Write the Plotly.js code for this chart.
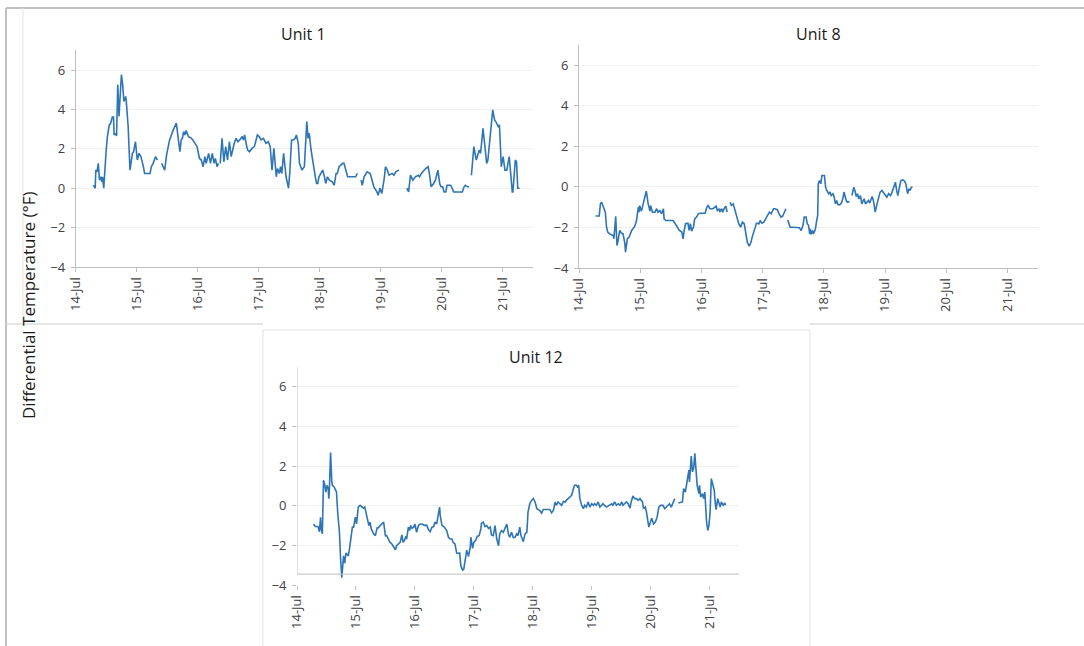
<!DOCTYPE html>
<html>
<head>
<meta charset="utf-8">
<script src="https://cdn.plot.ly/plotly-3.0.1.min.js"></script>
<style>
  html, body { margin: 0; padding: 0; background: #ffffff; }
  #chart { width: 1084px; height: 646px; }
</style>
</head>
<body>
<div id="chart"></div>
<script>
// Day-of-July timestamps (fractional days) and differential temperatures (°F).
// null values mark logging gaps.
const u1Day = [14.29,14.32,14.33,14.35,14.37,14.39,14.41,14.43,14.44,14.46,14.50,14.52,14.55,14.57,14.60,14.62,14.63,14.65,14.67,14.69,14.71,14.73,14.75,14.77,14.79,14.82,14.83,14.86,14.89,14.93,14.95,14.98,15.01,15.04,15.07,15.11,15.13,15.22,15.24,15.27,15.31,15.34,15.37,
  15.41,15.46,15.49,15.51,15.54,15.60,15.65,15.71,15.73,15.75,15.77,15.79,15.81,15.85,15.90,15.92,15.97,15.99,16.03,16.06,16.09,16.12,16.14,16.18,16.21,16.24,16.27,16.29,16.32,16.34,16.355,
  16.37,16.40,16.43,16.44,16.46,16.49,16.52,16.55,16.58,16.60,16.63,16.66,16.69,16.73,16.75,16.77,16.80,16.82,16.85,16.89,16.93,16.98,17.01,17.04,17.08,17.12,17.16,17.19,17.22,17.25,17.29,17.31,17.34,17.36,17.38,17.41,17.45,17.49,17.51,17.54,17.57,17.60,17.62,17.65,17.67,17.71,17.75,17.79,17.81,17.83,17.86,17.90,17.93,17.95,17.97,17.99,18.02,18.05,18.08,18.10,18.13,18.16,18.21,18.24,18.27,18.29,18.32,18.38,18.40,18.43,18.46,18.59,18.62,18.65,
  18.68,18.70,18.73,18.78,18.83,18.87,18.89,18.94,18.96,18.99,19.02,19.06,19.08,19.11,19.14,19.19,19.22,19.25,19.30,19.36,
  19.43,19.46,19.49,19.53,19.57,19.62,19.64,19.67,19.74,19.78,19.80,19.83,19.87,19.90,19.94,19.97,19.99,20.02,20.04,20.07,20.09,20.15,20.20,20.34,20.37,20.39,20.43,20.45,20.47,
  20.49,20.53,20.57,20.60,20.62,20.64,20.68,20.70,20.74,20.76,20.80,20.84,20.87,20.89,20.93,20.95,20.98,21.01,21.04,21.07,21.11,21.13,21.16,21.17,21.21,21.23,21.25,21.28];
const u1Val = [0.15,0.0,0.92,0.83,1.26,0.41,0.58,0.32,0.58,0.0,1.94,2.62,3.21,3.27,3.61,3.61,2.70,2.79,2.65,5.26,3.64,5.17,5.77,5.26,4.40,4.66,4.40,3.13,0.92,1.77,1.85,2.36,1.43,1.77,1.60,1.09,0.75,0.75,1.09,1.26,1.60,1.43,null,
  1.26,0.92,1.68,1.94,2.45,2.96,3.30,1.85,2.45,2.53,2.87,2.70,2.93,2.62,2.53,2.45,2.19,2.11,1.51,1.43,1.09,1.60,1.26,1.77,1.26,1.77,1.26,1.51,1.09,1.26,null,
  1.26,2.53,1.34,1.68,2.11,1.43,2.36,1.60,2.11,2.28,2.53,2.36,2.45,2.62,2.45,2.70,2.19,1.94,1.85,2.02,2.11,2.70,2.62,2.45,2.53,2.28,2.36,2.11,0.92,2.02,0.58,1.00,0.75,1.09,0.75,1.77,0.58,0.0,0.75,2.45,2.45,2.53,2.70,2.28,1.26,0.92,1.09,3.38,2.53,2.79,1.94,1.00,0.58,0.24,0.24,0.58,0.75,0.92,0.58,0.24,0.58,0.41,0.32,0.15,0.75,0.75,1.09,1.26,1.26,0.83,0.58,0.58,0.75,null,
  0.41,0.15,0.58,0.83,0.75,0.32,0.07,-0.19,-0.36,0.0,-0.27,0.49,1.09,0.92,0.66,0.75,0.66,0.83,0.92,null,
  0.0,-0.19,0.66,0.41,0.58,0.66,0.58,0.75,1.00,1.09,0.75,0.07,0.24,0.41,0.92,0.24,0.07,0.07,-0.19,-0.19,0.15,0.15,-0.19,-0.19,0.07,0.15,0.07,0.07,null,
  0.66,2.11,1.43,1.77,1.94,1.77,3.04,2.45,1.26,1.43,2.62,3.98,3.47,3.38,3.13,3.21,1.09,1.60,0.92,0.92,1.60,0.75,-0.19,-0.19,1.43,1.34,0.0,0.0];

const u8Day = [14.27,14.33,14.35,14.37,14.39,14.43,14.45,14.47,14.50,14.53,14.56,14.57,14.58,14.60,14.62,14.64,14.66,14.67,14.69,14.72,14.75,14.76,14.79,14.82,14.86,14.88,14.91,14.94,14.97,14.98,14.99,15.02,15.05,15.08,15.10,15.13,15.16,15.17,15.20,15.24,15.27,15.29,15.32,15.35,15.38,15.39,15.42,15.54,15.59,15.64,15.68,15.70,15.72,15.74,15.78,15.80,15.82,15.84,15.87,15.89,15.92,15.95,15.98,16.06,16.09,16.11,16.14,16.19,16.24,16.26,16.29,16.30,16.33,16.35,16.37,16.40,16.42,16.45,
  16.47,16.49,16.52,16.55,16.58,16.61,16.64,16.67,16.70,16.72,16.75,16.78,16.81,16.83,16.88,16.90,16.94,16.96,16.99,17.02,17.05,17.08,17.11,17.14,17.18,17.20,17.24,17.27,17.30,17.33,17.37,17.38,17.395,
  17.41,17.45,17.50,17.56,17.60,17.63,17.66,17.68,17.71,17.73,17.75,17.77,17.78,17.79,17.82,17.83,17.86,17.88,17.90,17.91,17.93,17.95,17.97,18.01,18.03,18.05,18.08,18.10,18.12,18.15,18.17,18.19,18.21,18.23,18.26,18.29,18.31,18.33,18.35,18.37,18.39,18.42,18.44,
  18.46,18.49,18.51,18.53,18.55,18.57,18.60,18.62,18.64,18.66,18.68,18.71,18.73,18.75,18.77,18.79,18.81,18.84,18.87,18.90,18.92,18.95,18.98,19.01,19.03,19.06,19.09,19.11,19.14,19.17,19.19,19.21,19.23,19.26,19.29,19.32,19.34,19.37,19.39,19.41,19.43,19.45];
const u8Val = [-1.44,-1.44,-0.84,-0.76,-0.92,-1.25,-1.99,-2.23,-2.32,-2.35,-2.40,-2.56,-2.15,-1.46,-2.89,-2.64,-2.23,-2.15,-2.28,-2.32,-2.81,-3.22,-2.56,-2.48,-2.15,-2.07,-1.95,-1.66,-1.00,-1.25,-0.92,-1.20,-0.84,-0.51,-0.21,-0.84,-1.20,-0.92,-1.25,-1.25,-1.08,-1.25,-1.17,-1.33,-1.08,-1.58,-1.66,-1.66,-1.90,-2.15,-2.23,-2.56,-2.15,-1.82,-1.79,-2.15,-1.82,-2.18,-1.99,-1.58,-1.49,-1.33,-1.30,-1.30,-1.00,-0.92,-1.08,-1.08,-0.95,-1.17,-1.08,-1.25,-1.08,-1.25,-1.08,-0.95,-1.25,null,
  -0.76,-0.92,-0.84,-1.17,-1.49,-1.82,-1.99,-1.74,-1.82,-2.23,-2.73,-2.92,-2.73,-2.48,-1.90,-1.79,-1.82,-1.66,-1.79,-1.74,-1.58,-1.41,-1.25,-1.33,-1.08,-1.08,-1.13,-1.33,-1.49,-1.44,-1.17,-1.08,null,
  -1.63,-1.99,-1.99,-1.99,-2.02,-2.15,-1.90,-1.49,-1.49,-1.82,-1.90,-2.32,-2.07,-2.35,-2.15,-2.32,-2.12,-1.74,-1.41,0.15,0.31,0.15,0.56,0.56,-0.02,-0.18,-0.34,-0.26,-0.43,-0.34,-0.51,-0.84,-0.67,-0.87,-0.89,-0.79,-0.59,-0.26,-0.51,-0.71,-0.76,-0.72,null,
  -0.43,-0.02,-0.21,-0.48,-0.34,-0.59,-0.43,-0.84,-0.71,-0.59,-0.84,-0.72,-0.67,-0.80,-0.59,-0.48,-0.67,-1.25,-0.84,-0.51,-0.26,-0.18,-0.31,-0.43,-0.51,-0.34,-0.43,-0.31,-0.02,0.23,-0.18,-0.43,-0.10,0.31,0.34,0.28,0.15,-0.34,-0.10,-0.18,-0.02,-0.02];

const u12Day = [14.28,14.31,14.34,14.36,14.38,14.40,14.41,14.43,14.45,14.47,14.49,14.51,14.53,14.54,14.55,14.57,14.59,14.60,14.63,14.67,14.69,14.72,14.74,14.76,14.79,14.81,14.83,14.85,14.87,14.89,14.91,14.94,14.96,14.99,15.01,15.03,15.04,15.07,15.10,15.13,15.15,15.17,15.20,15.22,15.24,15.26,15.30,15.33,15.36,15.38,15.41,15.44,15.47,15.50,15.52,15.55,15.58,15.61,15.64,15.67,15.69,15.72,15.75,15.78,15.80,15.82,15.85,15.86,15.89,15.91,15.93,15.95,15.98,
  16.00,16.03,16.06,16.09,16.12,16.15,16.17,16.20,16.23,16.26,16.29,16.32,16.34,16.37,16.40,16.42,16.43,16.46,16.50,16.54,16.57,16.60,16.63,16.65,16.68,16.71,16.74,16.76,16.78,16.81,16.83,16.86,16.88,16.91,16.94,16.95,16.98,
  17.00,17.03,17.06,17.09,17.12,17.13,17.16,17.19,17.22,17.25,17.28,17.30,17.33,17.36,17.39,17.42,17.44,17.47,17.50,17.53,17.56,17.59,17.61,17.64,17.67,17.70,17.73,17.75,17.78,17.80,17.82,17.84,17.87,17.90,17.92,17.95,17.98,
  18.01,18.04,18.07,18.12,18.15,18.18,18.29,18.32,18.35,18.38,18.40,18.43,18.46,18.49,18.52,18.55,18.57,18.60,18.63,18.66,18.69,18.71,18.74,18.76,18.78,18.80,18.83,18.86,18.88,18.91,18.94,18.97,
  19.00,19.03,19.05,19.08,19.11,19.14,19.17,19.19,19.25,19.31,19.34,19.36,19.39,19.42,19.45,19.48,19.51,19.53,19.56,19.59,19.62,19.65,19.67,19.70,19.73,19.76,19.79,19.82,19.84,19.86,19.88,19.91,19.93,19.95,19.97,
  20.00,20.02,20.05,20.08,20.11,20.14,20.17,20.21,20.24,20.27,20.30,20.32,20.35,20.38,20.41,20.44,
  20.47,20.49,20.54,20.56,20.59,20.62,20.65,20.66,20.69,20.71,20.73,20.75,20.78,20.79,20.82,20.83,20.85,20.88,20.90,20.92,20.95,20.97,20.99,
  21.01,21.03,21.06,21.08,21.09,21.11,21.14,21.16,21.18,21.20,21.23,21.26,21.27];
const u12Val = [-0.92,-1.05,-1.05,-1.08,-1.31,-0.58,-1.17,-1.42,1.29,1.07,0.69,1.03,0.86,0.36,0.86,2.68,1.20,1.03,0.95,0.69,-0.32,-1.34,-2.69,-3.63,-2.53,-2.90,-2.39,-2.49,-2.53,-2.19,-1.68,-1.08,-1.08,-0.58,-0.92,-0.49,-0.07,0.02,-0.07,-0.12,-0.07,-0.32,-0.63,-1.00,-0.83,-1.17,-1.42,-1.51,-1.12,-1.12,-1.00,-0.92,-0.83,-1.51,-1.51,-1.68,-1.85,-1.93,-2.10,-2.22,-2.02,-1.93,-1.85,-1.47,-1.85,-1.76,-1.54,-1.68,-1.08,-1.25,-1.00,-1.14,-1.08,
  -0.92,-1.34,-1.00,-0.92,-0.92,-0.97,-1.00,-0.97,-1.20,-1.31,-1.08,-1.05,-0.83,-0.92,-0.49,-0.07,-0.49,-1.00,-1.08,-1.25,-1.59,-1.68,-1.68,-1.85,-1.93,-2.39,-2.41,-2.36,-3.03,-3.25,-3.20,-2.69,-2.24,-2.56,-2.10,-1.59,-2.15,
  -1.85,-1.76,-1.54,-1.51,-1.17,-0.88,-0.83,-1.05,-1.00,-1.14,-1.08,-1.47,-1.51,-1.00,-1.68,-2.02,-1.42,-1.25,-1.34,-1.08,-0.93,-1.47,-1.59,-1.34,-1.61,-1.59,-1.42,-1.51,-1.08,-1.51,-1.68,-1.81,-1.42,-1.34,-0.32,0.10,0.27,
  0.36,0.19,-0.15,-0.24,-0.37,-0.19,-0.19,-0.36,-0.24,0.19,0.02,0.19,0.10,0.02,0.22,0.19,0.27,0.36,0.49,0.53,0.86,1.03,1.03,0.95,1.03,0.36,0.02,-0.15,0.02,-0.07,0.19,-0.07,
  0.10,0.02,0.10,0.02,0.19,-0.07,0.02,0.10,-0.07,0.02,0.10,0.02,0.19,0.02,0.10,0.02,0.19,0.02,0.10,0.19,0.10,-0.12,0.19,0.49,0.36,0.36,0.27,0.36,0.27,0.22,-0.15,-0.07,-0.32,-0.83,-1.08,
  -0.80,-0.63,-0.92,-0.83,-0.58,-0.07,0.02,0.02,-0.15,-0.07,0.02,0.10,-0.07,0.19,0.36,null,
  0.15,0.15,0.19,0.86,0.69,1.20,1.80,1.20,2.51,1.71,1.88,2.64,1.71,1.03,0.61,1.03,0.44,0.61,0.36,0.69,-0.83,-1.25,-1.00,
  -0.32,1.37,1.03,0.78,0.36,-0.20,0.36,0.19,-0.07,0.19,0.02,0.14,0.02];

const panelTitles = ['Unit 1', 'Unit 8', 'Unit 12'];
const dateTicks = [14, 15, 16, 17, 18, 19, 20, 21];
const dateLabels = ['14-Jul', '15-Jul', '16-Jul', '17-Jul', '18-Jul', '19-Jul', '20-Jul', '21-Jul'];
const tempTicks = [-4, -2, 0, 2, 4, 6];
const yTitle = 'Differential Temperature (°F)';

const W = 1084, H = 646;
const px = v => v / W;
const py = v => 1 - v / H;

const LINE = '#2e75b6';
const AXIS = '#bfbfbf';
const GRID = '#efefef';
const FONT = 'Open Sans, Noto Sans, sans-serif';
const TICKFONT = { family: FONT, size: 13, color: '#404040' };

function trace(x, y, xa, ya) {
  return { x: x, y: y, xaxis: xa, yaxis: ya, type: 'scatter', mode: 'lines',
           line: { color: LINE, width: 1.6 }, connectgaps: false, hoverinfo: 'x+y' };
}

function xAxis(dom, anchor, showline) {
  return { domain: dom, anchor: anchor, range: [14, 21.5], tickmode: 'array',
           tickvals: dateTicks, ticktext: dateLabels, tickangle: -90, tickfont: TICKFONT,
           showgrid: false, zeroline: false, showline: showline, linecolor: AXIS, linewidth: 1,
           ticks: 'outside', ticklen: 4, tickcolor: AXIS, fixedrange: true };
}
function yAxis(dom, anchor, showline) {
  return { domain: dom, anchor: anchor, range: [-4, 7], tickmode: 'array',
           tickvals: tempTicks, tickfont: TICKFONT, showgrid: true, gridcolor: GRID, gridwidth: 1,
           zeroline: false, showline: showline, linecolor: AXIS, linewidth: 1,
           ticks: 'outside', ticklen: 4, tickcolor: AXIS, ticklabelstandoff: 3, fixedrange: true };
}

const data = [
  trace(u1Day, u1Val, 'x', 'y'),
  trace(u8Day, u8Val, 'x2', 'y2'),
  trace(u12Day, u12Val, 'x3', 'y3')
];

function paperLine(x0, y0, x1, y1, color, width) {
  return { type: 'line', xref: 'paper', yref: 'paper', x0: px(x0), y0: py(y0), x1: px(x1), y1: py(y1),
           line: { color: color, width: width }, layer: 'below' };
}

const shapes = [
  // frame around the whole figure
  paperLine(6, 8, 1084, 8, '#c0c0c0', 2),
  paperLine(6, 8, 6, 646, '#c0c0c0', 2),
  paperLine(23, 8, 23, 324, '#e3e3e3', 1),
  paperLine(6, 324, 263, 324, '#dcdcdc', 1.5),
  paperLine(810, 324, 1084, 324, '#dcdcdc', 1.5),
  // box holding the lower panel
  { type: 'rect', xref: 'paper', yref: 'paper', x0: px(263), y0: py(650), x1: px(810), y1: py(330),
    line: { color: '#e3e3e3', width: 1 }, fillcolor: 'rgba(0,0,0,0)', layer: 'below' },
  // axis lines of the lower panel
  { type: 'line', xref: 'x3', yref: 'y3', x0: 14, x1: 21.5, y0: -3.45, y1: -3.45, line: { color: AXIS, width: 1 } },
  { type: 'line', xref: 'x3', yref: 'y3', x0: 14, x1: 14, y0: -3.45, y1: 7, line: { color: AXIS, width: 1 } }
];

const titleFont = { family: FONT, size: 16, color: '#1a1a1a' };
const annotations = [
  { text: panelTitles[0], x: px(303), y: py(34), xref: 'paper', yref: 'paper', showarrow: false, font: titleFont, xanchor: 'center', yanchor: 'middle' },
  { text: panelTitles[1], x: px(818), y: py(34), xref: 'paper', yref: 'paper', showarrow: false, font: titleFont, xanchor: 'center', yanchor: 'middle' },
  { text: panelTitles[2], x: px(536), y: py(357), xref: 'paper', yref: 'paper', showarrow: false, font: titleFont, xanchor: 'center', yanchor: 'middle' },
  { text: yTitle, x: px(28), y: py(305), xref: 'paper', yref: 'paper', showarrow: false, textangle: -90,
    font: { family: FONT, size: 17, color: '#1a1a1a' }, xanchor: 'center', yanchor: 'middle' }
];

const layout = {
  width: W, height: H,
  margin: { l: 0, r: 0, t: 0, b: 0 },
  paper_bgcolor: '#ffffff', plot_bgcolor: 'rgba(0,0,0,0)',
  showlegend: false,
  xaxis: xAxis([px(75.7), px(533)], 'y', true),
  yaxis: yAxis([py(267), py(50.3)], 'x', true),
  xaxis2: xAxis([px(579), px(1038)], 'y2', true),
  yaxis2: yAxis([py(268), py(44.7)], 'x2', true),
  xaxis3: xAxis([px(297), px(739)], 'y3', false),
  yaxis3: yAxis([py(585), py(367)], 'x3', false),
  shapes: shapes,
  annotations: annotations
};

Plotly.newPlot('chart', data, layout, { displayModeBar: false, staticPlot: true });
</script>
</body>
</html>
